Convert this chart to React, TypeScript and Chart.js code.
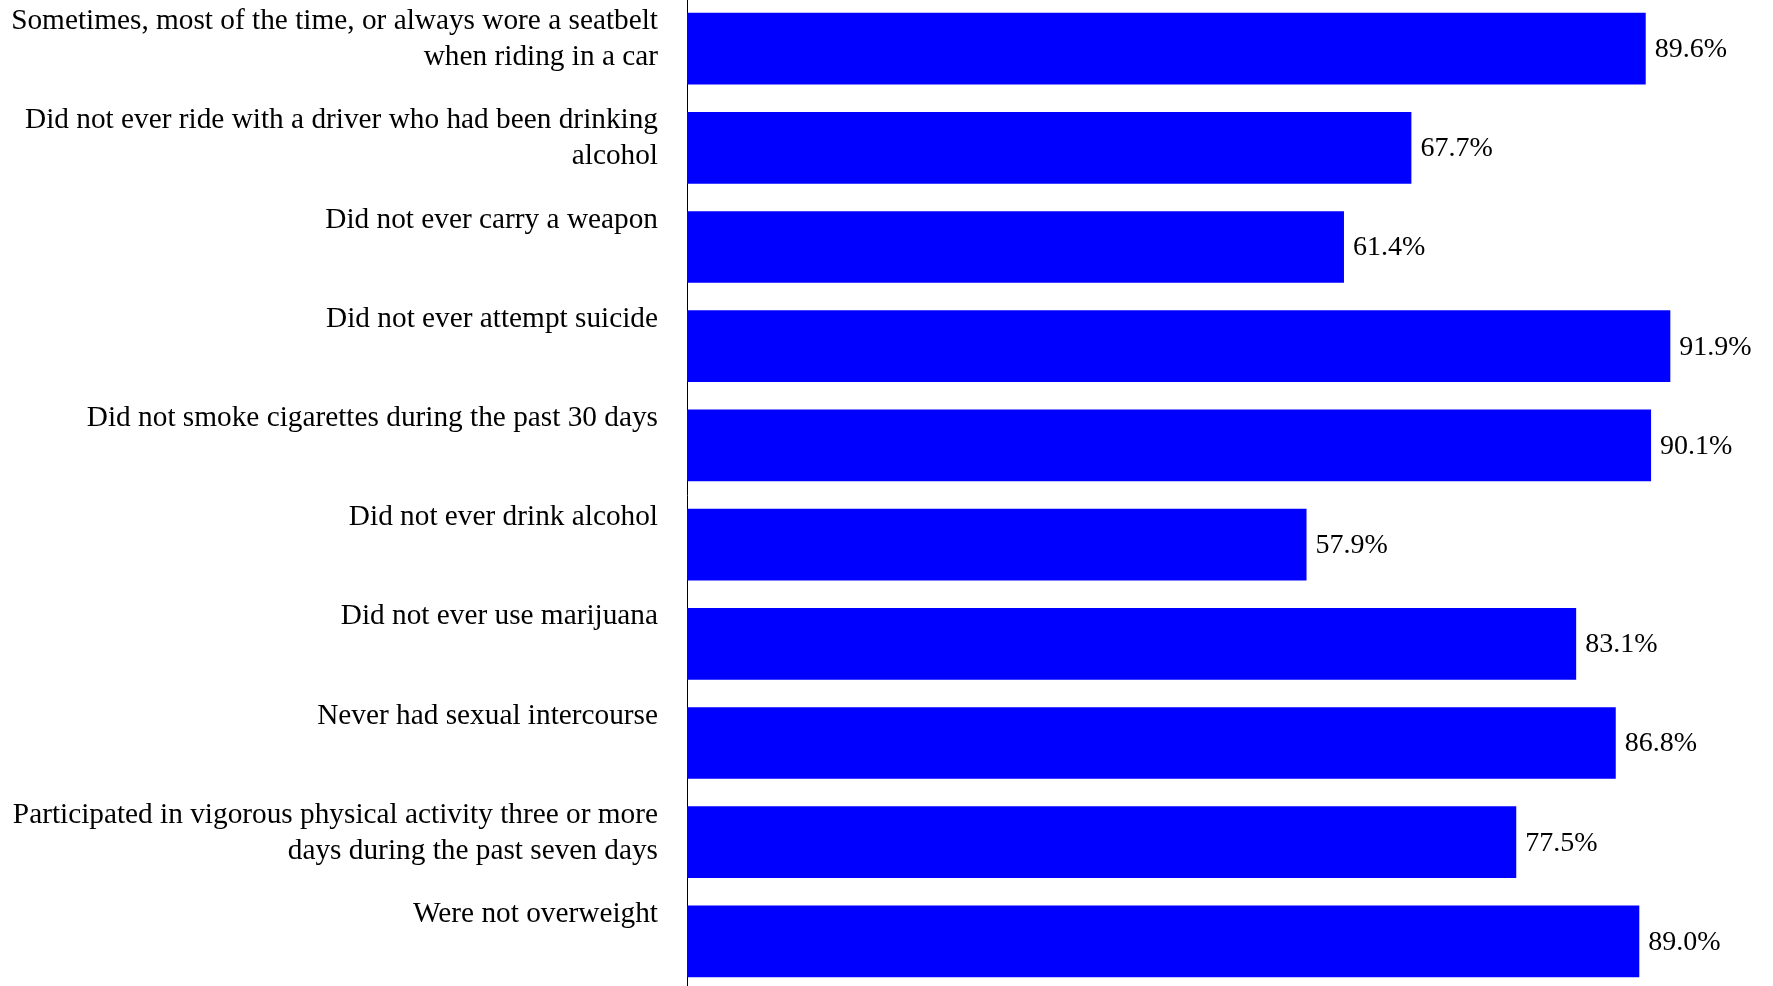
import React, { useEffect, useRef } from "react";
import { Chart, registerables } from "chart.js";

Chart.register(...registerables);

const categories: string[][] = [
  ["Sometimes, most of the time, or always wore a seatbelt", "when riding in a car"],
  ["Did not ever ride with a driver who had been drinking", "alcohol"],
  ["Did not ever carry a weapon", ""],
  ["Did not ever attempt suicide", ""],
  ["Did not smoke cigarettes during the past 30 days", ""],
  ["Did not ever drink alcohol", ""],
  ["Did not ever use marijuana", ""],
  ["Never had sexual intercourse", ""],
  ["Participated in vigorous physical activity three or more", "days during the past seven days"],
  ["Were not overweight", ""],
];

const values: number[] = [89.6, 67.7, 61.4, 91.9, 90.1, 57.9, 83.1, 86.8, 77.5, 89.0];

const FONT_FAMILY = "'Liberation Serif', 'Times New Roman', serif";
const LABEL_SIZE = 29.3;
const VALUE_SIZE = 28;

const valueLabelPlugin = {
  id: "valueLabels",
  afterDatasetsDraw(chart: any) {
    const ctx = chart.ctx;
    const meta = chart.getDatasetMeta(0);
    ctx.save();
    ctx.font = `${VALUE_SIZE}px ${FONT_FAMILY}`;
    ctx.fillStyle = "#000000";
    ctx.textAlign = "left";
    ctx.textBaseline = "middle";
    meta.data.forEach((bar: any, i: number) => {
      const v = chart.data.datasets[0].data[i] as number;
      ctx.fillText(v.toFixed(1) + "%", bar.x + 9, bar.y + 1);
    });
    ctx.restore();
  },
};

export default function App() {
  const canvasRef = useRef<HTMLCanvasElement | null>(null);

  useEffect(() => {
    document.body.style.margin = "0";
    document.body.style.overflow = "hidden";
    const canvas = canvasRef.current;
    if (!canvas) return;
    const chart = new Chart(canvas, {
      type: "bar",
      data: {
        labels: categories,
        datasets: [
          {
            data: values,
            backgroundColor: "#0000FF",
            borderWidth: 0,
            barPercentage: 0.723,
            categoryPercentage: 1,
          },
        ],
      },
      options: {
        indexAxis: "y",
        responsive: false,
        animation: false,
        maintainAspectRatio: false,
        layout: { padding: { left: 0, right: 16, top: 0, bottom: 0 } },
        plugins: {
          legend: { display: false },
          tooltip: { enabled: false },
          title: { display: false },
        },
        scales: {
          x: {
            display: false,
            min: 0,
            max: 100,
          },
          y: {
            grid: { display: false, drawTicks: false },
            border: { display: true, color: "#000000", width: 1 },
            ticks: {
              autoSkip: false,
              color: "#000000",
              padding: 29,
              labelOffset: -9,
              font: { family: FONT_FAMILY, size: LABEL_SIZE, lineHeight: 36 / LABEL_SIZE },
            },
            afterFit(scale: any) {
              scale.width = 687;
              scale.paddingTop = 0;
              scale.paddingBottom = 0;
            },
          },
        },
      },
      plugins: [valueLabelPlugin],
    });
    return () => chart.destroy();
  }, []);

  return (
    <div style={{ position: "relative", width: 1773, height: 992, marginTop: -1 }}>
      <canvas ref={canvasRef} width={1773} height={992} />
    </div>
  );
}
